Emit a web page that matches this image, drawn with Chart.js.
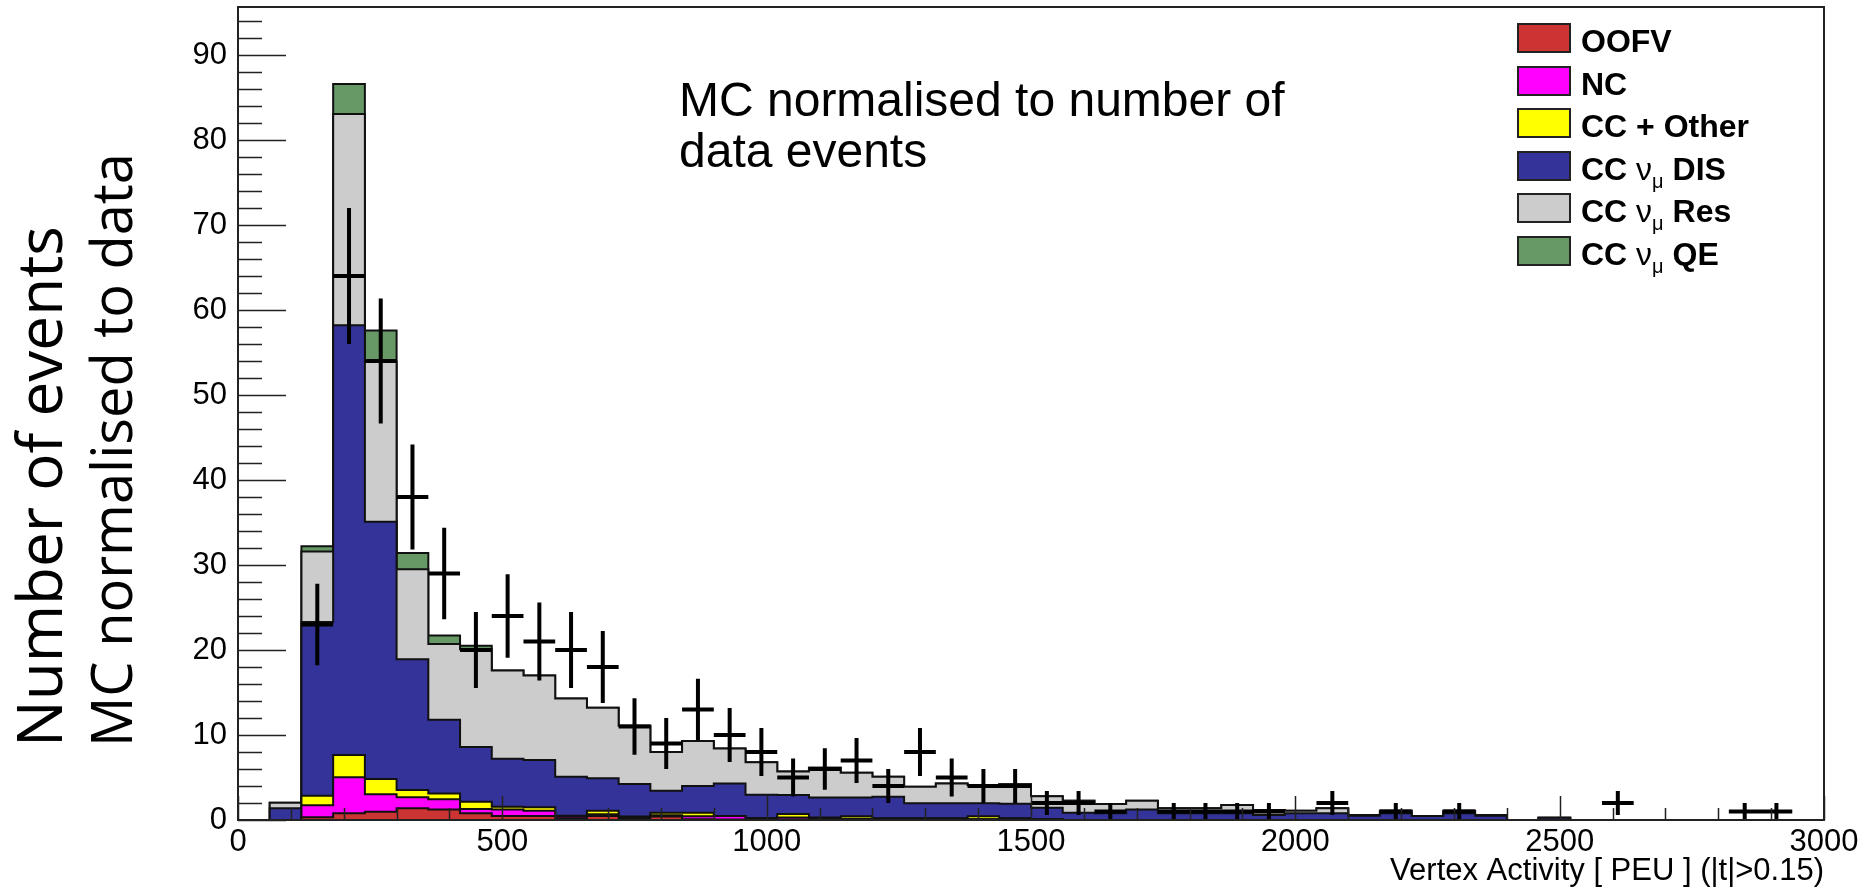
<!DOCTYPE html>
<html>
<head>
<meta charset="utf-8">
<title>Vertex Activity</title>
<script src="https://cdn.jsdelivr.net/npm/chart.js@4.4.1/dist/chart.umd.min.js"></script>
<style>
  html, body { margin: 0; padding: 0; background: #fff; }
  #wrap { position: relative; width: 1874px; height: 894px; overflow: hidden; }
  #plot { position: absolute; left: 0; top: 0; }
  .ytitle {
    position: absolute; left: 2px; top: 747px;
    transform: rotate(-90deg); transform-origin: left top;
    font-family: 'Open Sans', sans-serif; line-height: 72px;
    white-space: nowrap; color: #000;
  }
  .ytitle .l1 { font-size: 62px; display: block; }
  .ytitle .l2 { font-size: 56px; display: block; }
  .note {
    position: absolute; left: 679px; top: 74px;
    font-family: 'Liberation Sans', Arial, sans-serif; font-size: 48px; line-height: 51px;
    color: #000; white-space: nowrap;
  }
  .leg-row { position: absolute; left: 1517px; height: 30px; }
  .leg-box { position: absolute; left: 0; top: 0; width: 54px; height: 30px; box-sizing: border-box; border: 2px solid #222; }
  .leg-txt {
    position: absolute; left: 64px; top: 3px; line-height: 30px; white-space: nowrap;
    font-family: 'Liberation Sans', Arial, sans-serif; font-weight: bold; font-size: 32px; color: #000;
  }
  .leg-txt .nu { font-weight: normal; }
  .leg-txt sub { font-weight: normal; font-size: 20px; line-height: 0; vertical-align: -8px; }
</style>
</head>
<body>
<div id="wrap">
  <canvas id="plot" width="1874" height="894"></canvas>
  <div class="ytitle"><span class="l1">Number of events</span><span class="l2">MC normalised to data</span></div>
  <div class="note">MC normalised to number of<br>data events</div>
  <div id="legend"></div>
</div>
<script>
// bin edges (60 PEU bins)
const binEdges = [0, 60, 120, 180, 240, 300, 360, 420, 480, 540, 600, 660, 720, 780, 840, 900, 960, 1020, 1080, 1140,
  1200, 1260, 1320, 1380, 1440, 1500, 1560, 1620, 1680, 1740, 1800, 1860, 1920, 1980, 2040, 2100, 2160, 2220, 2280, 2340,
  2400, 2460, 2520, 2580, 2640, 2700, 2760, 2820, 2880, 2940, 3000];

// MC components, bottom of the stack first
const oofv = [0, 0, 0.31, 0.78, 0.98, 1.37, 1.25, 0.78, 0.47, 0.47, 0.15, 0.47, 0.25, 0.40, 0.10, 0.07, 0.10, 0.05, 0.10, 0.10,
  0.10, 0.10, 0.10, 0.10, 0.10, 0.05, 0, 0, 0, 0, 0, 0, 0, 0, 0, 0, 0, 0, 0, 0, 0, 0, 0, 0, 0, 0, 0, 0, 0, 0];
const nc = [0, 0, 1.42, 4.24, 2.04, 1.30, 1.20, 0.51, 0.78, 0.63, 0.24, 0.20, 0.05, 0.15, 0.35, 0.40, 0.10, 0.25, 0.10, 0.05,
  0.05, 0.05, 0.05, 0, 0.05, 0, 0, 0, 0, 0, 0, 0, 0, 0, 0, 0, 0, 0, 0, 0, 0, 0, 0, 0, 0, 0, 0, 0, 0, 0];
const ccOther = [0, 0, 1.13, 2.63, 1.80, 0.86, 0.67, 0.87, 0.30, 0.39, 0.10, 0.43, 0.10, 0.30, 0.40, 0, 0, 0.40, 0.10, 0.30,
  0.05, 0.05, 0.05, 0.35, 0.05, 0, 0, 0, 0, 0, 0, 0, 0, 0, 0, 0, 0, 0, 0, 0, 0, 0, 0, 0, 0, 0, 0, 0, 0, 0];
const ccDis = [0, 1.37, 20.44, 50.55, 30.28, 15.37, 8.68, 6.44, 5.65, 5.57, 4.61, 3.80, 3.84, 2.60, 3.15, 3.83, 2.78, 2.24, 2.35, 2.20,
  2.55, 1.76, 1.76, 1.51, 1.70, 1.40, 0.86, 0.78, 1.25, 0.78, 0.78, 0.78, 0.60, 0.78, 0.78, 0.50, 0.80, 0.47, 0.80, 0.50,
  0, 0.27, 0, 0, 0, 0, 0, 0, 0, 0];
const ccRes = [0, 0.67, 8.30, 24.86, 18.80, 10.60, 8.90, 11.50, 10.40, 9.94, 9.20, 8.30, 6.86, 4.55, 5.30, 4.10, 3.82, 2.76, 3.50, 2.92,
  2.35, 1.94, 2.34, 2.14, 2.30, 1.35, 1.41, 1.10, 1.02, 0.59, 0.59, 0.98, 0.58, 0.32, 0.60, 0.09, 0.30, 0, 0.30, 0.10,
  0, 0, 0, 0, 0, 0, 0, 0, 0, 0];
const ccQe = [0, 0, 0.60, 3.54, 3.70, 1.90, 1.00, 0.40, 0, 0, 0, 0, 0, 0, 0, 0, 0, 0, 0, 0,
  0, 0, 0, 0, 0, 0, 0, 0, 0, 0, 0, 0, 0, 0, 0, 0, 0, 0, 0, 0, 0, 0, 0, 0, 0, 0, 0, 0, 0, 0];

// data events per bin
const dataCounts = [0, 0, 23, 64, 54, 38, 29, 20, 24, 21, 20, 18, 11, 9, 13, 10, 8, 5, 6, 7,
  4, 8, 5, 4, 4, 2, 2, 1, 0, 1, 1, 1, 1, 0, 2, 0, 1, 0, 1, 0, 0, 0, 0, 2, 0, 0, 0, 1, 1, 0];

const seriesLabels = ['OOFV', 'NC', 'CC + Other', 'CC ν_μ DIS', 'CC ν_μ Res', 'CC ν_μ QE'];
const seriesColors = ['#cc3333', '#ff00ff', '#ffff00', '#333399', '#cccccc', '#669966'];
const seriesValues = [oofv, nc, ccOther, ccDis, ccRes, ccQe];

const xTicks = [0, 500, 1000, 1500, 2000, 2500, 3000];
const yTicks = [0, 10, 20, 30, 40, 50, 60, 70, 80, 90];
const xMinorStep = 100;
const yMinorStep = 2;
const yMax = 95.65;

// step points: one per left bin edge, plus the closing edge
function stepPoints(vals) {
  const pts = vals.map((v, i) => ({ x: binEdges[i], y: v }));
  pts.push({ x: binEdges[binEdges.length - 1], y: vals[vals.length - 1] });
  return pts;
}

const datasets = seriesValues.map((vals, i) => ({
  label: seriesLabels[i],
  data: stepPoints(vals),
  stepped: true,
  backgroundColor: seriesColors[i],
  borderColor: '#111',
  borderWidth: 2,
  pointRadius: 0,
  fill: i === 0 ? 'origin' : '-1'
}));

// ROOT style frame, inward ticks and data crosses
const rootFrame = {
  id: 'rootFrame',
  afterDatasetsDraw(chart) {
    const { ctx, chartArea: a, scales: { x, y } } = chart;
    ctx.save();
    ctx.strokeStyle = '#000';

    ctx.lineWidth = 4;
    ctx.beginPath();
    dataCounts.forEach((n, i) => {
      if (!n) return;
      const x0 = x.getPixelForValue(binEdges[i]);
      const x1 = x.getPixelForValue(binEdges[i + 1]);
      const xm = (x0 + x1) / 2;
      const yc = y.getPixelForValue(n);
      const err = Math.sqrt(n);
      ctx.moveTo(x0, yc);
      ctx.lineTo(x1, yc);
      ctx.moveTo(xm, y.getPixelForValue(n + err));
      ctx.lineTo(xm, y.getPixelForValue(Math.max(0, n - err)));
    });
    ctx.stroke();

    ctx.lineWidth = 1.5;
    ctx.strokeStyle = '#222';
    ctx.beginPath();
    for (let v = x.min; v <= x.max; v += xMinorStep) {
      const px = Math.round(x.getPixelForValue(v)) + 0.5;
      const len = xTicks.includes(v) ? 24 : 12;
      ctx.moveTo(px, a.bottom);
      ctx.lineTo(px, a.bottom - len);
    }
    for (let v = 0; v <= y.max; v += yMinorStep) {
      const py = Math.round(y.getPixelForValue(v)) + 0.5;
      const len = yTicks.includes(v) ? 48 : 24;
      ctx.moveTo(a.left, py);
      ctx.lineTo(a.left + len, py);
    }
    ctx.stroke();

    ctx.lineWidth = 2;
    ctx.strokeStyle = '#222';
    ctx.strokeRect(a.left, a.top, a.right - a.left, a.bottom - a.top);
    ctx.restore();
  }
};

new Chart(document.getElementById('plot'), {
  type: 'line',
  data: { datasets },
  options: {
    responsive: false,
    animation: false,
    layout: { padding: { top: 7, right: 50, left: 0, bottom: 0 } },
    plugins: { legend: { display: false }, tooltip: { enabled: false } },
    scales: {
      x: {
        type: 'linear',
        min: 0,
        max: 3000,
        afterBuildTicks: s => { s.ticks = xTicks.map(v => ({ value: v })); },
        afterFit: s => { s.height = 74; s.paddingLeft = 0; s.paddingRight = 0; },
        grid: { display: false, drawTicks: false },
        border: { display: false },
        ticks: {
          autoSkip: false, maxRotation: 0, padding: 4, color: '#000',
          font: { family: 'Liberation Sans', size: 31 },
          callback: v => String(v)
        },
        title: {
          display: true, text: 'Vertex Activity [ PEU ] (|t|>0.15)', align: 'end', color: '#000',
          font: { family: 'Liberation Sans', size: 31 }, padding: { top: 0, bottom: 4 }
        }
      },
      y: {
        stacked: true,
        min: 0,
        max: yMax,
        afterBuildTicks: s => { s.ticks = yTicks.map(v => ({ value: v })); },
        afterFit: s => { s.width = 238; s.paddingTop = 0; s.paddingBottom = 0; },
        grid: { display: false, drawTicks: false },
        border: { display: false },
        ticks: {
          padding: 11, color: '#000',
          font: { family: 'Liberation Sans', size: 31 },
          callback: v => String(v)
        }
      }
    }
  },
  plugins: [rootFrame]
});

// legend box (top right), built from the series arrays
const legend = document.getElementById('legend');
seriesLabels.forEach((lab, i) => {
  const row = document.createElement('div');
  row.className = 'leg-row';
  row.style.top = (23 + i * 42.6) + 'px';
  const box = document.createElement('div');
  box.className = 'leg-box';
  box.style.background = seriesColors[i];
  const txt = document.createElement('div');
  txt.className = 'leg-txt';
  txt.innerHTML = lab.replace('ν_μ', '<span class="nu">ν</span><sub>μ</sub>');
  row.appendChild(box);
  row.appendChild(txt);
  legend.appendChild(row);
});
</script>
</body>
</html>
